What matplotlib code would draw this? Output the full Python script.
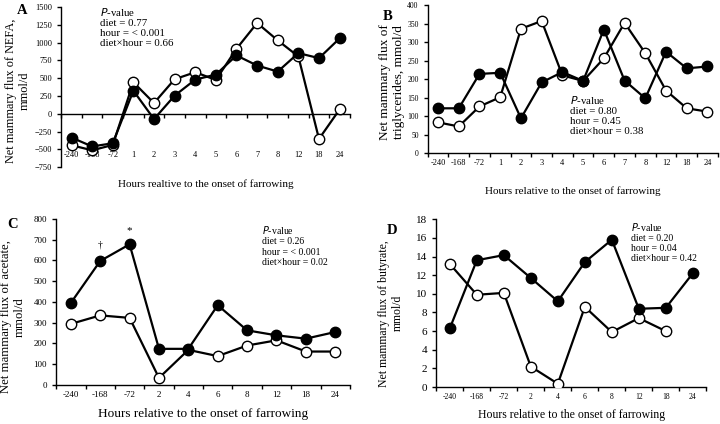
import numpy as np
import matplotlib
matplotlib.use("Agg")
import matplotlib.pyplot as plt

plt.rcParams['font.family'] = ['Liberation Serif', 'DejaVu Serif']

# --- data ---
hours_ab = ['-240', '-168', '-72', '1', '2', '3', '4', '5', '6', '7', '8', '12', '18', '24']
hours_cd = ['-240', '-168', '-72', '2', '4', '6', '8', '12', '18', '24']

nefa_filled = [-335, -460, -415, 325, -75, 255, 481, 552, 821, 679, 594, 854, 783, 1061]
nefa_open = [-443, -514, -439, 443, 151, 486, 585, 476, 915, 1278, 1033, 807, -354, 61]

tg_filled = [121, 121, 214, 217, 94, 191, 219, 195, 334, 196, 148, 274, 229, 234]
tg_open = [83, 72, 126, 151, 336, 357, 210, 195, 256, 352, 270, 169, 121, 112]

ac_filled = [395, 597, 677, 174, 174, 384, 263, 239, 223, 255]
ac_open = [294, 335, 323, 34, 169, 139, 190, 215, 161, 161]

but_filled = [6.3, 13.6, 14.15, 11.7, 9.2, 13.4, 15.8, 8.4, 8.5, 12.2]
but_open = [13.2, 9.9, 10.1, 2.2, 0.36, 8.6, 5.9, 7.4, 6.0, np.nan]


def draw_series(ax, filled, opened, ms=7.5):
    x = np.arange(len(filled))
    ax.plot(x, opened, color='black', lw=1.6, marker='o', ms=ms,
            mfc='white', mec='black', mew=1.0, zorder=3)
    ax.plot(x, filled, color='black', lw=1.6, marker='o', ms=ms,
            mfc='black', mec='black', zorder=4)


def setup_x(ax, labels, fs, pad=2):
    n = len(labels)
    ax.set_xlim(-0.5, n - 0.5)
    ax.set_xticks(np.arange(n + 1) - 0.5)
    ax.set_xticklabels([])
    ax.set_xticks(np.arange(n), minor=True)
    ax.set_xticklabels(labels, minor=True, fontsize=fs)
    ax.tick_params(axis='x', which='major', direction='out', length=3, width=1)
    ax.tick_params(axis='x', which='minor', length=0, pad=pad)
    ax.tick_params(axis='y', direction='out', length=3, width=1)
    for s in ['top', 'right']:
        ax.spines[s].set_visible(False)
    ax.spines['left'].set_linewidth(1)
    ax.spines['bottom'].set_linewidth(1)


fig = plt.figure(figsize=(7.2, 4.24), dpi=100)

# Panel A
axA = fig.add_axes([0.085, 0.606, 0.401, 0.377])
axA.spines['bottom'].set_position(('data', 0))
draw_series(axA, nefa_filled, nefa_open)
setup_x(axA, hours_ab, 6, pad=27)
axA.set_ylim(-750, 1500)
axA.set_yticks(np.arange(-750, 1501, 250))
axA.tick_params(axis='y', labelsize=6)
axA.set_ylabel('Net mammary flux of NEFA,\nmmol/d', fontsize=8.8)
axA.yaxis.set_label_coords(-0.107, 0.48)
axA.text(0.5, -0.075, 'Hours realtive to the onset of farrowing', transform=axA.transAxes,
         ha='center', va='top', fontsize=8)
fig.text(0.023, 0.99, 'A', fontsize=10.5, fontweight='bold', va='top')
axA.text(0.135, 1.01, '$P$-value\ndiet = 0.77\nhour = < 0.001\ndiet\u00d7hour = 0.66',
         transform=axA.transAxes, ha='left', va='top', fontsize=7.8, linespacing=1.15)

# Panel B
axB = fig.add_axes([0.594, 0.639, 0.403, 0.349])
draw_series(axB, tg_filled, tg_open)
setup_x(axB, hours_ab, 6, pad=4)
axB.set_ylim(0, 400)
axB.set_yticks(np.arange(0, 401, 50))
axB.tick_params(axis='y', labelsize=5.5)
axB.set_ylabel('Net mammary flux of\ntriglycerides, mmol/d', fontsize=9.5)
axB.yaxis.set_label_coords(-0.078, 0.48)
axB.set_xlabel('Hours relative to the onset of farrowing', fontsize=8, labelpad=14)
fig.text(0.531, 0.976, 'B', fontsize=10.5, fontweight='bold', va='top')
axB.text(0.49, 0.40, '$P$-value\ndiet = 0.80\nhour = 0.45\ndiet\u00d7hour = 0.38',
         transform=axB.transAxes, ha='left', va='top', fontsize=7.8, linespacing=1.15)

# Panel C
axC = fig.add_axes([0.078, 0.092, 0.408, 0.392])
draw_series(axC, ac_filled, ac_open)
setup_x(axC, hours_cd, 6.5, pad=4)
axC.set_ylim(0, 800)
axC.set_yticks(np.arange(0, 801, 100))
axC.tick_params(axis='y', labelsize=6.5)
axC.set_ylabel('Net mammary flux of acetate,\nmmol/d', fontsize=9.2)
axC.yaxis.set_label_coords(-0.105, 0.41)
axC.set_xlabel('Hours relative to the onset of farrowing', fontsize=9.5, labelpad=7)
fig.text(0.01, 0.486, 'C', fontsize=10.5, fontweight='bold', va='top')
axC.annotate('\u2020', (1, ac_filled[1]), xytext=(0, 8), textcoords='offset points',
             ha='center', va='bottom', fontsize=7)
axC.annotate('*', (2, ac_filled[2]), xytext=(0, 7), textcoords='offset points',
             ha='center', va='bottom', fontsize=8)
axC.text(0.70, 0.97, '$P$-value\ndiet = 0.26\nhour = < 0.001\ndiet\u00d7hour = 0.02',
         transform=axC.transAxes, ha='left', va='top', fontsize=7, linespacing=1.2)

# Panel D
axD = fig.add_axes([0.606, 0.087, 0.375, 0.396])
draw_series(axD, but_filled, but_open)
setup_x(axD, hours_cd, 5.5, pad=4)
axD.set_ylim(0, 18)
axD.set_yticks(np.arange(0, 19, 2))
axD.tick_params(axis='y', labelsize=8)
axD.set_ylabel('Net mammary flux of butyrate,\nmmol/d', fontsize=8.5)
axD.yaxis.set_label_coords(-0.122, 0.44)
axD.set_xlabel('Hours relative to the onset of farrowing', fontsize=8.5, labelpad=6)
fig.text(0.5375, 0.472, 'D', fontsize=10.5, fontweight='bold', va='top')
axD.text(0.72, 0.99, '$P$-value\ndiet = 0.20\nhour = 0.04\ndiet\u00d7hour = 0.42',
         transform=axD.transAxes, ha='left', va='top', fontsize=7, linespacing=1.15)

fig.savefig('out.png', dpi=100)
